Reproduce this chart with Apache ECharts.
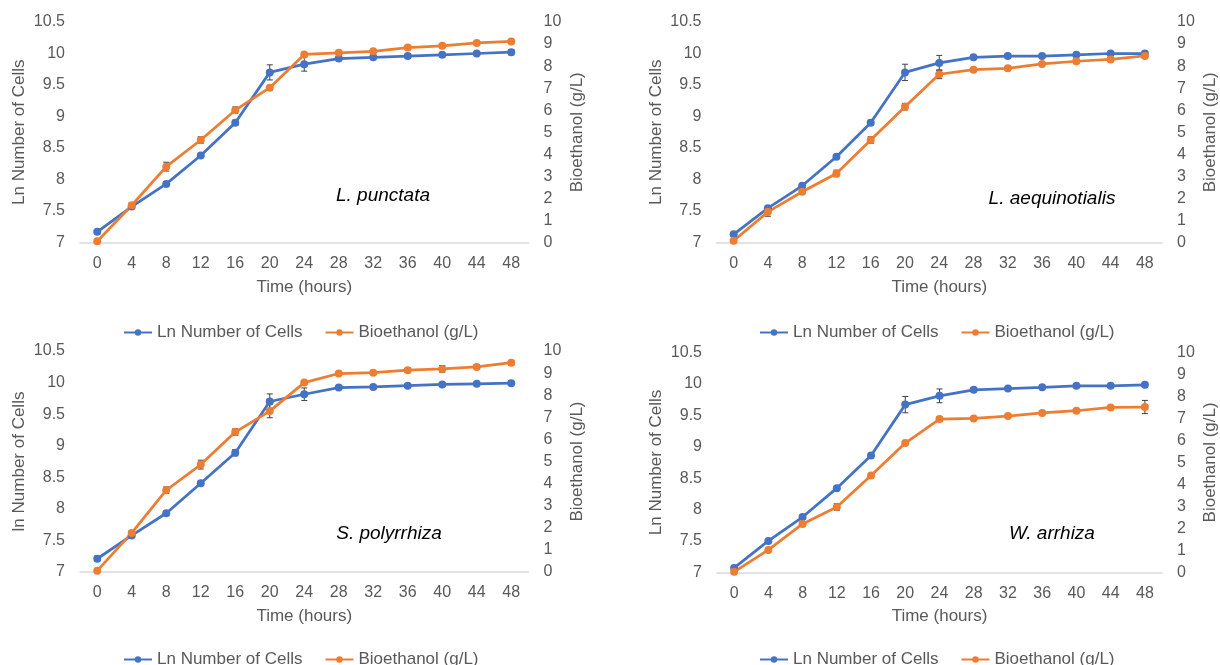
<!DOCTYPE html>
<html>
<head>
<meta charset="utf-8">
<script src="https://cdn.jsdelivr.net/npm/echarts@6/dist/echarts.min.js"></script>
<style>
html,body{margin:0;padding:0;background:#fff;}
#chart{width:1220px;height:665px;}
</style>
</head>
<body>
<div id="chart"></div>
<script>
// ---------- data ----------
const hours = ['0','4','8','12','16','20','24','28','32','36','40','44','48'];
const cellsName = 'Ln Number of Cells';
const ethName = 'Bioethanol (g/L)';
const species = ['L. punctata', 'L. aequinotialis', 'S. polyrrhiza', 'W. arrhiza'];
const leftTitles = ['Ln Number of Cells', 'Ln Number of Cells', 'ln Number of Cells', 'Ln Number of Cells'];

const lpCells = [7.17, 7.57, 7.93, 8.38, 8.90, 9.70, 9.83, 9.92, 9.94, 9.96, 9.98, 10.00, 10.02];
const lpEth   = [0.06, 1.69, 3.44, 4.65, 6.00, 7.02, 8.53, 8.60, 8.67, 8.84, 8.92, 9.05, 9.12];
const lpCellsErr = [0.03, 0.03, 0.03, 0.03, 0.04, 0.12, 0.11, 0.02, 0.02, 0.03, 0.02, 0.03, 0.04];
const lpEthErr   = [0.05, 0.10, 0.20, 0.15, 0.15, 0.10, 0.05, 0.05, 0.05, 0.05, 0.05, 0.05, 0.05];

const laCells = [7.13, 7.545, 7.90, 8.36, 8.90, 9.70, 9.85, 9.94, 9.96, 9.96, 9.98, 10.00, 10.00];
const laEth   = [0.08, 1.39, 2.30, 3.13, 4.65, 6.16, 7.63, 7.84, 7.90, 8.10, 8.22, 8.30, 8.46];
const laCellsErr = [0.03, 0.03, 0.03, 0.03, 0.04, 0.13, 0.12, 0.02, 0.02, 0.03, 0.02, 0.02, 0.02];
const laEthErr   = [0.05, 0.20, 0.10, 0.15, 0.15, 0.15, 0.20, 0.05, 0.05, 0.05, 0.10, 0.05, 0.10];

const spCells = [7.21, 7.58, 7.93, 8.405, 8.89, 9.70, 9.815, 9.92, 9.93, 9.95, 9.97, 9.98, 9.99];
const spEth   = [0.06, 1.77, 3.70, 4.86, 6.33, 7.28, 8.57, 8.98, 9.02, 9.13, 9.19, 9.28, 9.47];
const spCellsErr = [0.04, 0.03, 0.03, 0.03, 0.05, 0.12, 0.10, 0.02, 0.02, 0.03, 0.02, 0.02, 0.02];
const spEthErr   = [0.05, 0.10, 0.15, 0.20, 0.15, 0.30, 0.05, 0.05, 0.05, 0.10, 0.15, 0.10, 0.10];

const waCells = [7.07, 7.50, 7.88, 8.34, 8.86, 9.67, 9.81, 9.905, 9.925, 9.945, 9.97, 9.97, 9.985];
const waEth   = [0.02, 1.02, 2.20, 2.97, 4.40, 5.88, 6.97, 7.00, 7.11, 7.25, 7.35, 7.50, 7.52];
const waCellsErr = [0.03, 0.02, 0.03, 0.03, 0.03, 0.13, 0.11, 0.02, 0.02, 0.02, 0.02, 0.02, 0.02];
const waEthErr   = [0.05, 0.05, 0.10, 0.15, 0.10, 0.10, 0.10, 0.05, 0.05, 0.05, 0.05, 0.05, 0.30];

const cellsYTicks = {min: 7, max: 10.5, interval: 0.5};
const ethYTicks = {min: 0, max: 10, interval: 1};

const panels = [
  {cells: lpCells, eth: lpEth, cErr: lpCellsErr, eErr: lpEthErr},
  {cells: laCells, eth: laEth, cErr: laCellsErr, eErr: laEthErr},
  {cells: spCells, eth: spEth, cErr: spCellsErr, eErr: spEthErr},
  {cells: waCells, eth: waEth, cErr: waCellsErr, eErr: waEthErr}
];

// ---------- layout / style ----------
const BLUE = '#4472C4', ORANGE = '#ED7D31', GRAY = '#595959';
const FONT = '"Liberation Sans", Arial, sans-serif';
const grids = [
  {left: 80,  top: 22,  width: 448.5, height: 220.5},
  {left: 716.5, top: 22, width: 448.5, height: 220.5},
  {left: 80,  top: 351, width: 448.5, height: 221},
  {left: 717, top: 352.5, width: 449, height: 219.8}
];
const legendPos = [{left: 123, top: 324}, {left: 759, top: 324}, {left: 123, top: 651}, {left: 759, top: 651}];
const notePos = [{x: 383, y: 196}, {x: 1052, y: 199}, {x: 389, y: 534}, {x: 1052, y: 534}];

const xAxes = [], yAxes = [], series = [], legends = [], titles = [];

function errorSeries(name, xi, yi, vals, errs, z) {
  return {
    type: 'custom',
    name: name + ' error',
    xAxisIndex: xi, yAxisIndex: yi,
    z: z,
    silent: true,
    data: vals.map((v, i) => [i, v - errs[i], v + errs[i]]),
    encode: {x: 0, y: [1, 2]},
    renderItem: function (params, api) {
      const lo = api.coord([api.value(0), api.value(1)]);
      const hi = api.coord([api.value(0), api.value(2)]);
      const w = 3;
      const st = {stroke: '#404040', lineWidth: 1};
      return {
        type: 'group',
        children: [
          {type: 'line', shape: {x1: lo[0], y1: lo[1], x2: hi[0], y2: hi[1]}, style: st},
          {type: 'line', shape: {x1: lo[0] - w, y1: lo[1], x2: lo[0] + w, y2: lo[1]}, style: st},
          {type: 'line', shape: {x1: hi[0] - w, y1: hi[1], x2: hi[0] + w, y2: hi[1]}, style: st}
        ]
      };
    }
  };
}

panels.forEach((p, k) => {
  xAxes.push({
    type: 'category', gridIndex: k, data: hours, boundaryGap: true,
    axisLine: {show: true, lineStyle: {color: '#d9d9d9', width: 1.5}},
    axisTick: {show: false},
    axisLabel: {color: GRAY, fontSize: 16, fontFamily: FONT, margin: 13},
    name: 'Time (hours)', nameLocation: 'middle', nameGap: 36,
    nameTextStyle: {color: GRAY, fontSize: 17, fontFamily: FONT}
  });
  yAxes.push({
    type: 'value', gridIndex: k, position: 'left',
    min: cellsYTicks.min, max: cellsYTicks.max, interval: cellsYTicks.interval,
    axisLine: {show: false}, axisTick: {show: false}, splitLine: {show: false},
    axisLabel: {color: GRAY, fontSize: 16, fontFamily: FONT, margin: 15},
    name: leftTitles[k], nameLocation: 'middle', nameGap: 52,
    nameTextStyle: {color: GRAY, fontSize: 17, fontFamily: FONT}
  });
  yAxes.push({
    type: 'value', gridIndex: k, position: 'right',
    min: ethYTicks.min, max: ethYTicks.max, interval: ethYTicks.interval,
    axisLine: {show: false}, axisTick: {show: false}, splitLine: {show: false},
    axisLabel: {color: GRAY, fontSize: 16, fontFamily: FONT, margin: 15},
    name: ethName, nameLocation: 'middle', nameGap: 40,
    nameTextStyle: {color: GRAY, fontSize: 17, fontFamily: FONT}
  });
  series.push(errorSeries(cellsName, k, 2 * k, p.cells, p.cErr, 1));
  series.push(errorSeries(ethName, k, 2 * k + 1, p.eth, p.eErr, 1));
  series.push({
    type: 'line', name: cellsName, xAxisIndex: k, yAxisIndex: 2 * k,
    data: p.cells, color: BLUE, symbol: 'circle', symbolSize: 8,
    lineStyle: {width: 2.75, color: BLUE}, itemStyle: {color: BLUE}, z: 2, animation: false
  });
  series.push({
    type: 'line', name: ethName, xAxisIndex: k, yAxisIndex: 2 * k + 1,
    data: p.eth, color: ORANGE, symbol: 'circle', symbolSize: 8,
    lineStyle: {width: 2.75, color: ORANGE}, itemStyle: {color: ORANGE}, z: 2, animation: false
  });
  legends.push({
    left: legendPos[k].left, top: legendPos[k].top, orient: 'horizontal', padding: 0,
    data: [cellsName, ethName], itemWidth: 28, itemHeight: 8, itemGap: 22,
    selectedMode: false,
    textStyle: {color: GRAY, fontSize: 17, fontFamily: FONT}
  });
  titles.push({
    text: species[k], left: notePos[k].x, top: notePos[k].y, padding: 0,
    textAlign: 'center', textVerticalAlign: 'middle',
    textStyle: {color: '#000', fontSize: 19, fontStyle: 'italic', fontWeight: 'normal', fontFamily: FONT}
  });
});

const chart = echarts.init(document.getElementById('chart'), null, {renderer: 'canvas'});
chart.setOption({
  animation: false,
  backgroundColor: '#fff',
  title: titles,
  legend: legends,
  grid: grids,
  xAxis: xAxes,
  yAxis: yAxes,
  series: series
});
</script>
</body>
</html>
